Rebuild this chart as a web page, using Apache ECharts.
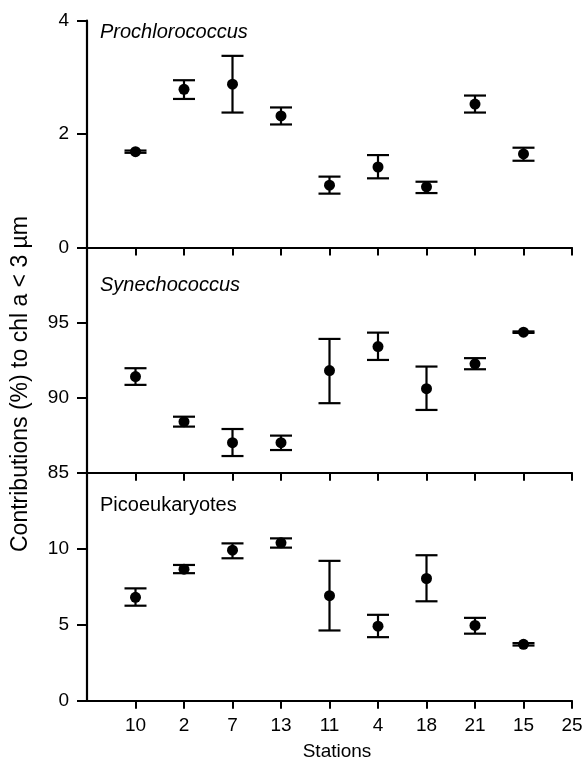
<!DOCTYPE html>
<html>
<head>
<meta charset="utf-8">
<script src="https://cdn.jsdelivr.net/npm/echarts@6/dist/echarts.min.js"></script>
<style>
html, body { margin: 0; padding: 0; background: #fff; }
#chart { width: 586px; height: 760px; }
</style>
</head>
<body>
<div id="chart"></div>
<script>
// stations in plotting order (x position 1..10)
const stations = ['10', '2', '7', '13', '11', '4', '18', '21', '15', '25'];

// Prochlorococcus
const proMean = [1.69, 2.79, 2.88, 2.32, 1.10, 1.42, 1.07, 2.53, 1.65];
const proLow  = [1.67, 2.62, 2.38, 2.17, 0.95, 1.22, 0.96, 2.38, 1.53];
const proHigh = [1.71, 2.95, 3.38, 2.47, 1.25, 1.63, 1.16, 2.68, 1.76];

// Synechococcus
const synMean = [91.4, 88.4, 87.0, 87.0, 91.8, 93.4, 90.6, 92.25, 94.36];
const synLow  = [90.85, 88.07, 86.11, 86.51, 89.63, 92.51, 89.18, 91.89, 94.31];
const synHigh = [91.96, 88.73, 87.91, 87.47, 93.91, 94.33, 92.07, 92.63, 94.41];

// Picoeukaryotes
const picMean = [6.80, 8.65, 9.90, 10.39, 6.91, 4.90, 8.04, 4.95, 3.71];
const picLow  = [6.25, 8.39, 9.37, 10.07, 4.62, 4.18, 6.54, 4.41, 3.63];
const picHigh = [7.39, 8.93, 10.35, 10.68, 9.20, 5.65, 9.57, 5.45, 3.79];

const font = "'Liberation Sans', Arial, Helvetica, sans-serif";
const tickPos = stations.map((s, i) => i + 1);

function points(mean) {
  return mean.map((v, i) => [i + 1, v]);
}
function bars(low, high) {
  return low.map((v, i) => [i + 1, v, high[i]]);
}

// error bar with caps
function errRender(params, api) {
  const x = api.value(0);
  const lo = api.coord([x, api.value(1)]);
  const hi = api.coord([x, api.value(2)]);
  const w = 11;
  const style = { stroke: '#000', lineWidth: 2.2, fill: null };
  return {
    type: 'group',
    children: [
      { type: 'line', shape: { x1: lo[0], y1: lo[1], x2: hi[0], y2: hi[1] }, style: style },
      { type: 'line', shape: { x1: lo[0] - w, y1: lo[1], x2: lo[0] + w, y2: lo[1] }, style: style },
      { type: 'line', shape: { x1: hi[0] - w, y1: hi[1], x2: hi[0] + w, y2: hi[1] }, style: style }
    ]
  };
}

function xAxis(idx, showLabel) {
  return {
    type: 'value',
    gridIndex: idx,
    min: 0,
    max: 10,
    interval: 1,
    axisLine: { lineStyle: { color: '#000', width: 2.2 } },
    axisTick: { customValues: tickPos, length: 8, lineStyle: { color: '#000', width: 2 } },
    axisLabel: {
      show: showLabel,
      customValues: tickPos,
      formatter: v => stations[v - 1],
      color: '#000',
      fontSize: 19,
      fontFamily: font,
      margin: 16
    },
    splitLine: { show: false }
  };
}

function yAxis(idx, min, max, interval, showMax) {
  return {
    type: 'value',
    gridIndex: idx,
    min: min,
    max: max,
    interval: interval,
    axisLine: { show: true, lineStyle: { color: '#000', width: 2.2 } },
    axisTick: { show: true, length: 10, lineStyle: { color: '#000', width: 2 } },
    axisLabel: {
      color: '#000',
      fontSize: 19,
      fontFamily: font,
      margin: 18,
      showMaxLabel: showMax
    },
    splitLine: { show: false }
  };
}

function panel(idx, mean, low, high) {
  return [
    {
      type: 'custom',
      xAxisIndex: idx,
      yAxisIndex: idx,
      renderItem: errRender,
      encode: { x: 0, y: [1, 2] },
      data: bars(low, high),
      clip: false,
      silent: true
    },
    {
      type: 'scatter',
      xAxisIndex: idx,
      yAxisIndex: idx,
      symbol: 'circle',
      symbolSize: 11,
      itemStyle: { color: '#000', opacity: 1 },
      data: points(mean),
      silent: true
    }
  ];
}

const titleStyle = (italic) => ({
  fontStyle: italic ? 'italic' : 'normal',
  fontWeight: 'normal',
  fontSize: 20,
  fontFamily: font,
  color: '#000'
});

const chart = echarts.init(document.getElementById('chart'));
chart.setOption({
  animation: false,
  backgroundColor: '#fff',
  title: [
    { text: 'Prochlorococcus', left: 100, top: 22, padding: 0, textStyle: titleStyle(true) },
    { text: 'Synechococcus', left: 100, top: 275, padding: 0, textStyle: titleStyle(true) },
    { text: 'Picoeukaryotes', left: 100, top: 495, padding: 0, textStyle: titleStyle(false) }
  ],
  grid: [
    { left: 87, right: 14, top: 20.7, height: 226.8 },
    { left: 87, right: 14, top: 247.5, height: 225.2 },
    { left: 87, right: 14, top: 472.7, height: 228 }
  ],
  xAxis: [xAxis(0, false), xAxis(1, false), xAxis(2, true)],
  yAxis: [
    yAxis(0, 0, 4, 2, true),
    yAxis(1, 85, 100, 5, false),
    yAxis(2, 0, 15, 5, false)
  ],
  graphic: [
    {
      type: 'text',
      x: 21,
      y: 384,
      rotation: Math.PI / 2,
      style: {
        text: 'Contributions (%) to chl a < 3 µm',
        fontSize: 23,
        fontFamily: font,
        fill: '#000',
        align: 'center',
        verticalAlign: 'middle'
      }
    },
    {
      type: 'text',
      x: 337,
      y: 752,
      style: {
        text: 'Stations',
        fontSize: 19,
        fontFamily: font,
        fill: '#000',
        align: 'center',
        verticalAlign: 'middle'
      }
    }
  ],
  series: [].concat(
    panel(0, proMean, proLow, proHigh),
    panel(1, synMean, synLow, synHigh),
    panel(2, picMean, picLow, picHigh)
  )
});
</script>
</body>
</html>
